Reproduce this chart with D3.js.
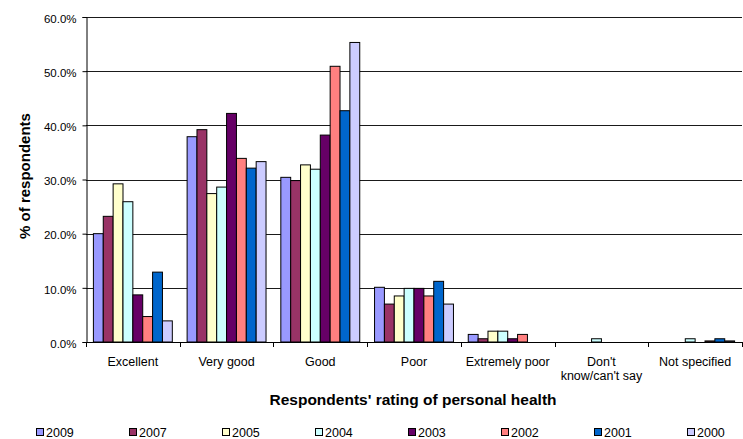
<!DOCTYPE html>
<html>
<head>
<meta charset="utf-8">
<script src="https://cdn.jsdelivr.net/npm/d3@7/dist/d3.min.js"></script>
<style>
  html, body { margin: 0; padding: 0; background: #fff; }
  svg { display: block; font-family: "Liberation Sans", Arial, sans-serif; }
</style>
</head>
<body>
<svg id="chart" width="743" height="439"></svg>
<script>
// Self-rated health, share of respondents by survey year
const categories = ["Excellent", "Very good", "Good", "Poor", "Extremely poor", "Don't know/can't say", "Not specified"];
const years = ["2009", "2007", "2005", "2004", "2003", "2002", "2001", "2000"];
const colors = ["#9999FF", "#993366", "#FFFFCC", "#CCFFFF", "#660066", "#FF8080", "#0066CC", "#CCCCFF"];

// one array per year, values in % following the category order
const v2009 = [20.0, 37.9, 30.4, 10.1, 1.4, 0.0, 0.0];
const v2007 = [23.2, 39.2, 29.8, 7.0, 0.6, 0.0, 0.0];
const v2005 = [29.2, 27.4, 32.7, 8.5, 2.0, 0.0, 0.0];
const v2004 = [25.9, 28.6, 31.9, 9.9, 2.0, 0.6, 0.6];
const v2003 = [8.7, 42.2, 38.2, 9.9, 0.6, 0.0, 0.0];
const v2002 = [4.7, 33.9, 50.9, 8.5, 1.4, 0.0, 0.2];
const v2001 = [12.9, 32.1, 42.7, 11.2, 0.0, 0.0, 0.6];
const v2000 = [3.9, 33.3, 55.3, 7.0, 0.0, 0.0, 0.2];
const seriesValues = [v2009, v2007, v2005, v2004, v2003, v2002, v2001, v2000];

const yTicks = [0, 10, 20, 30, 40, 50, 60];

const svg = d3.select("#chart");
const plot = { left: 86, right: 742, top: 17, bottom: 342 };

const x0 = d3.scaleBand().domain(categories).range([plot.left, plot.right]).paddingInner(0).paddingOuter(0);
// 150% gap between clusters: 8 bars + 1.5 bar widths of gap per category
const gapRatio = 1.5 / (years.length + 1.5);
const x1 = d3.scaleBand().domain(years)
  .range([x0.bandwidth() * gapRatio / 2, x0.bandwidth() * (1 - gapRatio / 2)])
  .padding(0);
const y = d3.scaleLinear().domain([0, 60]).range([plot.bottom, plot.top]);

// horizontal gridlines
svg.append("g").selectAll("line").data(yTicks.filter(t => t > 0)).join("line")
  .attr("x1", plot.left).attr("x2", plot.right)
  .attr("y1", d => Math.round(y(d)) + 0.5).attr("y2", d => Math.round(y(d)) + 0.5)
  .attr("stroke", "#1a1a1a").attr("stroke-width", 1);

// bars
const groups = svg.append("g").selectAll("g").data(categories).join("g")
  .attr("transform", c => `translate(${x0(c)},0)`);
groups.selectAll("rect")
  .data((c, ci) => years.map((yr, si) => ({ yr, si, v: seriesValues[si][ci] })).filter(d => d.v > 0))
  .join("rect")
  .attr("x", d => x1(d.yr))
  .attr("width", x1.bandwidth())
  .attr("y", d => y(d.v))
  .attr("height", d => y(0) - y(d.v))
  .attr("fill", d => colors[d.si])
  .attr("stroke", "#000")
  .attr("stroke-width", 1);

// y axis
const yAxis = d3.axisLeft(y).tickValues(yTicks).tickSize(4).tickPadding(6)
  .tickFormat(d => d3.format(".1f")(d) + "%");
const gy = svg.append("g").attr("transform", `translate(${plot.left + 0.5},0)`).call(yAxis);
gy.select(".domain").attr("stroke", "#000");
gy.selectAll(".tick line").attr("stroke", "#000");
gy.selectAll(".tick text").attr("font-size", 11.5).attr("fill", "#000").attr("dy", "0.45em")
  .attr("font-family", "Liberation Sans, Arial, sans-serif");

// x axis: baseline plus ticks at category boundaries
svg.append("line").attr("x1", plot.left).attr("x2", plot.right)
  .attr("y1", plot.bottom + 0.5).attr("y2", plot.bottom + 0.5).attr("stroke", "#000");
const bounds = categories.map(c => x0(c)).concat([plot.right]);
svg.append("g").selectAll("line").data(bounds).join("line")
  .attr("x1", d => Math.round(d) + 0.5).attr("x2", d => Math.round(d) + 0.5)
  .attr("y1", plot.bottom).attr("y2", plot.bottom + 5)
  .attr("stroke", "#000");

// category labels (wrapped where needed)
const catLabels = svg.append("g").attr("font-size", 12.5).attr("fill", "#000").attr("text-anchor", "middle");
categories.forEach(c => {
  const lines = c === "Don't know/can't say" ? ["Don't", "know/can't say"] : [c];
  const cx = x0(c) + x0.bandwidth() / 2;
  const t = catLabels.append("text").attr("x", cx).attr("y", 366);
  lines.forEach((l, i) => t.append("tspan").attr("x", cx).attr("dy", i === 0 ? 0 : 14).text(l));
});

// axis titles
svg.append("text").attr("x", 413).attr("y", 405).attr("text-anchor", "middle")
  .attr("font-size", 15.5).attr("font-weight", "bold").text("Respondents' rating of personal health");
svg.append("text").attr("transform", "translate(30,176) rotate(-90)").attr("text-anchor", "middle")
  .attr("font-size", 15).attr("font-weight", "bold").text("% of respondents");

// legend
const legend = svg.append("g").selectAll("g").data(years).join("g")
  .attr("transform", (d, i) => `translate(${36 + i * 93},428)`);
legend.append("rect").attr("x", 0.5).attr("y", 0.5).attr("width", 7).attr("height", 7)
  .attr("fill", (d, i) => colors[i]).attr("stroke", "#000");
legend.append("text").attr("x", 10).attr("y", 8.5).attr("font-size", 12.5).text(d => d);
</script>
</body>
</html>
